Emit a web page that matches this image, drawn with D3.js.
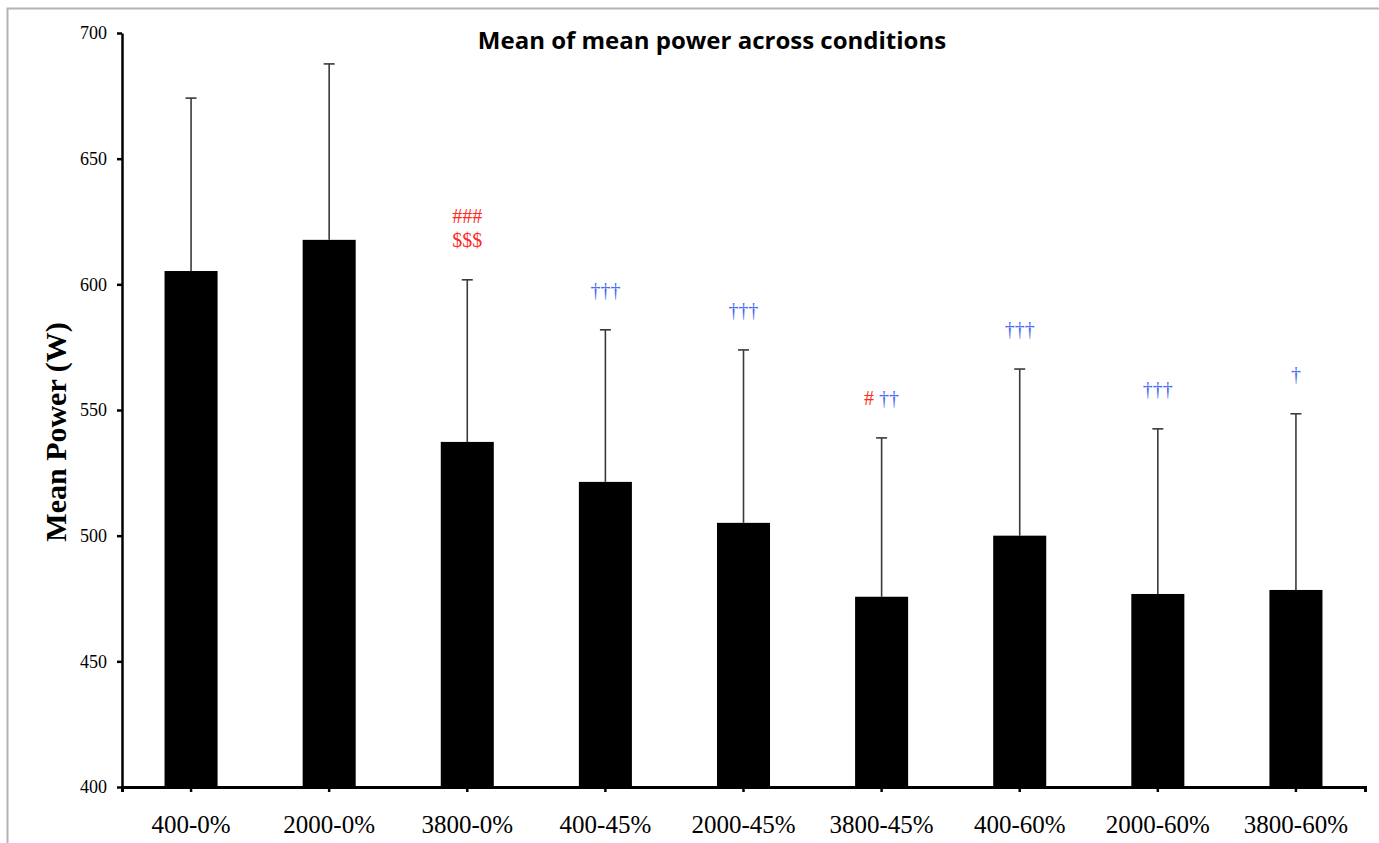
<!DOCTYPE html>
<html lang="en">
<head>
    <meta charset="UTF-8">
    <title>Mean of mean power across conditions</title>
    <script src="https://d3js.org/d3.v7.min.js"></script>
    <style>
        body { margin: 0; background: #fff; }
    </style>
</head>
<body>
<svg id="chart" width="1379" height="843"></svg>
<script>
    // chart data
    const categories = ["400-0%", "2000-0%", "3800-0%", "400-45%", "2000-45%", "3800-45%", "400-60%", "2000-60%", "3800-60%"];
    const meanPower = [605.3, 617.7, 537.3, 521.4, 505.1, 475.7, 500.0, 476.8, 478.4];
    const errorUp = [68.8, 70.0, 64.5, 60.5, 68.8, 63.2, 66.3, 65.7, 70.1];
    // significance markers, one list of lines (top to bottom) per bar
    const markers = [[], [], ["###", "$$$"], ["†††"], ["†††"], ["# ††"], ["†††"], ["†††"], ["†"]];
    const yTicks = [400, 450, 500, 550, 600, 650, 700];

    const serif = "'Liberation Serif', 'Times New Roman', serif";

    const margin = {top: 33, right: 14, bottom: 56, left: 122},
        width = 1379 - margin.left - margin.right,
        height = 843 - margin.top - margin.bottom;

    const svg = d3.select("#chart");

    // outer frame
    svg.append("rect")
        .attr("x", 7.5).attr("y", 8.5)
        .attr("width", 1400).attr("height", 900)
        .attr("fill", "none")
        .attr("stroke", "#b4b4b4")
        .attr("stroke-width", 2);

    const g = svg.append("g")
        .attr("transform", "translate(" + margin.left + "," + margin.top + ")");

    const x = d3.scaleBand()
        .domain(categories)
        .range([0, width])
        .paddingInner(0.616)
        .paddingOuter(0.308);

    const y = d3.scaleLinear().domain([400, 700]).range([height, 0]);

    const data = categories.map((c, i) => ({cat: c, mean: meanPower[i], err: errorUp[i], marks: markers[i]}));

    // error bars (drawn before bars so the bar covers the lower half)
    const eb = g.selectAll(".err").data(data).join("g").attr("class", "err")
        .attr("stroke", "#3a3a3a").attr("stroke-width", 1.6);
    eb.append("line")
        .attr("x1", d => x(d.cat) + x.bandwidth() / 2)
        .attr("x2", d => x(d.cat) + x.bandwidth() / 2)
        .attr("y1", d => y(d.mean))
        .attr("y2", d => y(d.mean + d.err));
    eb.append("line")
        .attr("x1", d => x(d.cat) + x.bandwidth() / 2 - 5.5)
        .attr("x2", d => x(d.cat) + x.bandwidth() / 2 + 5.5)
        .attr("y1", d => y(d.mean + d.err))
        .attr("y2", d => y(d.mean + d.err));

    g.selectAll(".bar").data(data).join("rect")
        .attr("class", "bar")
        .attr("x", d => x(d.cat))
        .attr("width", x.bandwidth())
        .attr("y", d => y(d.mean))
        .attr("height", d => height - y(d.mean))
        .attr("fill", "#000");

    // significance markers above the error bars
    const markColor = ch => (ch === "†" ? "#4b6cf5" : "#ff2a1f");
    data.forEach(d => {
        const n = d.marks.length;
        d.marks.forEach((line, j) => {
            const t = g.append("text")
                .attr("x", x(d.cat) + x.bandwidth() / 2)
                .attr("y", y(d.mean + d.err) - 33 - (n - 1 - j) * 24)
                .attr("text-anchor", "middle")
                .style("font-family", serif)
                .style("font-size", "20px");
            line.split(" ").forEach((part, k) => {
                t.append("tspan")
                    .text((k > 0 ? " " : "") + part)
                    .attr("fill", markColor(part[0]));
            });
        });
    });

    // axes
    g.append("g")
        .attr("class", "y axis")
        .call(d3.axisLeft(y).tickValues(yTicks).tickSize(5).tickSizeOuter(0).tickPadding(10))
        .call(a => a.select(".domain").attr("stroke-width", 2.5))
        .call(a => a.selectAll(".tick line").attr("stroke-width", 2.5))
        .call(a => a.selectAll("text").style("font-family", serif).style("font-size", "18px"));

    g.append("g")
        .attr("class", "x axis")
        .attr("transform", "translate(0," + height + ")")
        .call(d3.axisBottom(x).tickSize(5).tickSizeOuter(5).tickPadding(23))
        .call(a => a.select(".domain").attr("stroke-width", 3))
        .call(a => a.selectAll(".tick line").attr("stroke-width", 2.5))
        .call(a => a.selectAll("text").style("font-family", serif).style("font-size", "25px"));

    // title
    svg.append("text")
        .attr("x", 712).attr("y", 49)
        .attr("text-anchor", "middle")
        .style("font-family", "'Open Sans', sans-serif")
        .style("font-weight", "bold")
        .style("font-size", "24px")
        .text("Mean of mean power across conditions");

    // y axis label
    svg.append("text")
        .attr("transform", "translate(66," + (margin.top + height / 2 + 22) + ") rotate(-90)")
        .attr("text-anchor", "middle")
        .style("font-family", serif)
        .style("font-weight", "bold")
        .style("font-size", "30px")
        .text("Mean Power (W)");
</script>
</body>
</html>
